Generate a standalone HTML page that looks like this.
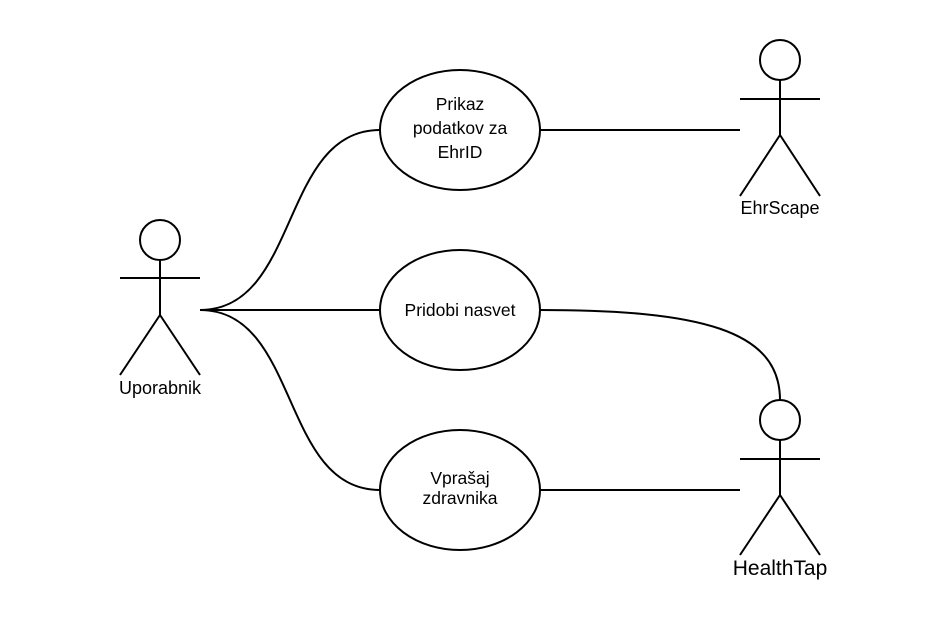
<!DOCTYPE html>
<html><head><style>body{margin:0;background:#fff}svg{display:block}</style></head><body>
<svg width="940" height="620" xmlns="http://www.w3.org/2000/svg" font-family="Liberation Sans, sans-serif" font-size="17.5" fill="none" stroke="#000" stroke-width="2">
<circle cx="160" cy="240" r="20"/>
<path d="M160 260V315M120 278H200M160 315L120 375M160 315L200 375"/>
<circle cx="780" cy="60" r="20"/>
<path d="M780 80V135M740 99H820M780 135L740 196M780 135L820 196"/>
<circle cx="780" cy="420" r="20"/>
<path d="M780 440V495M740 459H820M780 495L740 555M780 495L820 555"/>
<ellipse cx="460" cy="130" rx="80" ry="60"/>
<ellipse cx="460" cy="310" rx="80" ry="60"/>
<ellipse cx="460" cy="490" rx="80" ry="60"/>
<path d="M200 310C300 310 280 130 380 130"/>
<path d="M200 310H380"/>
<path d="M200 310C300 310 280 490 380 490"/>
<path d="M540 130H740M540 490H740"/>
<path d="M540 310C700 310 780 330 780 400"/>
<g fill="#000" stroke="none" text-anchor="middle">
<text x="460" y="110">Prikaz</text>
<text x="460" y="134">podatkov za</text>
<text x="460" y="158">EhrID</text>
<text x="460" y="316">Pridobi nasvet</text>
<text x="460" y="484">Vprašaj</text>
<text x="460" y="504">zdravnika</text>
<text x="160" y="394" font-size="18">Uporabnik</text>
<text x="780" y="214" font-size="18">EhrScape</text>
<text x="780" y="575" font-size="21">HealthTap</text>
</g>
</svg>
</body></html>
